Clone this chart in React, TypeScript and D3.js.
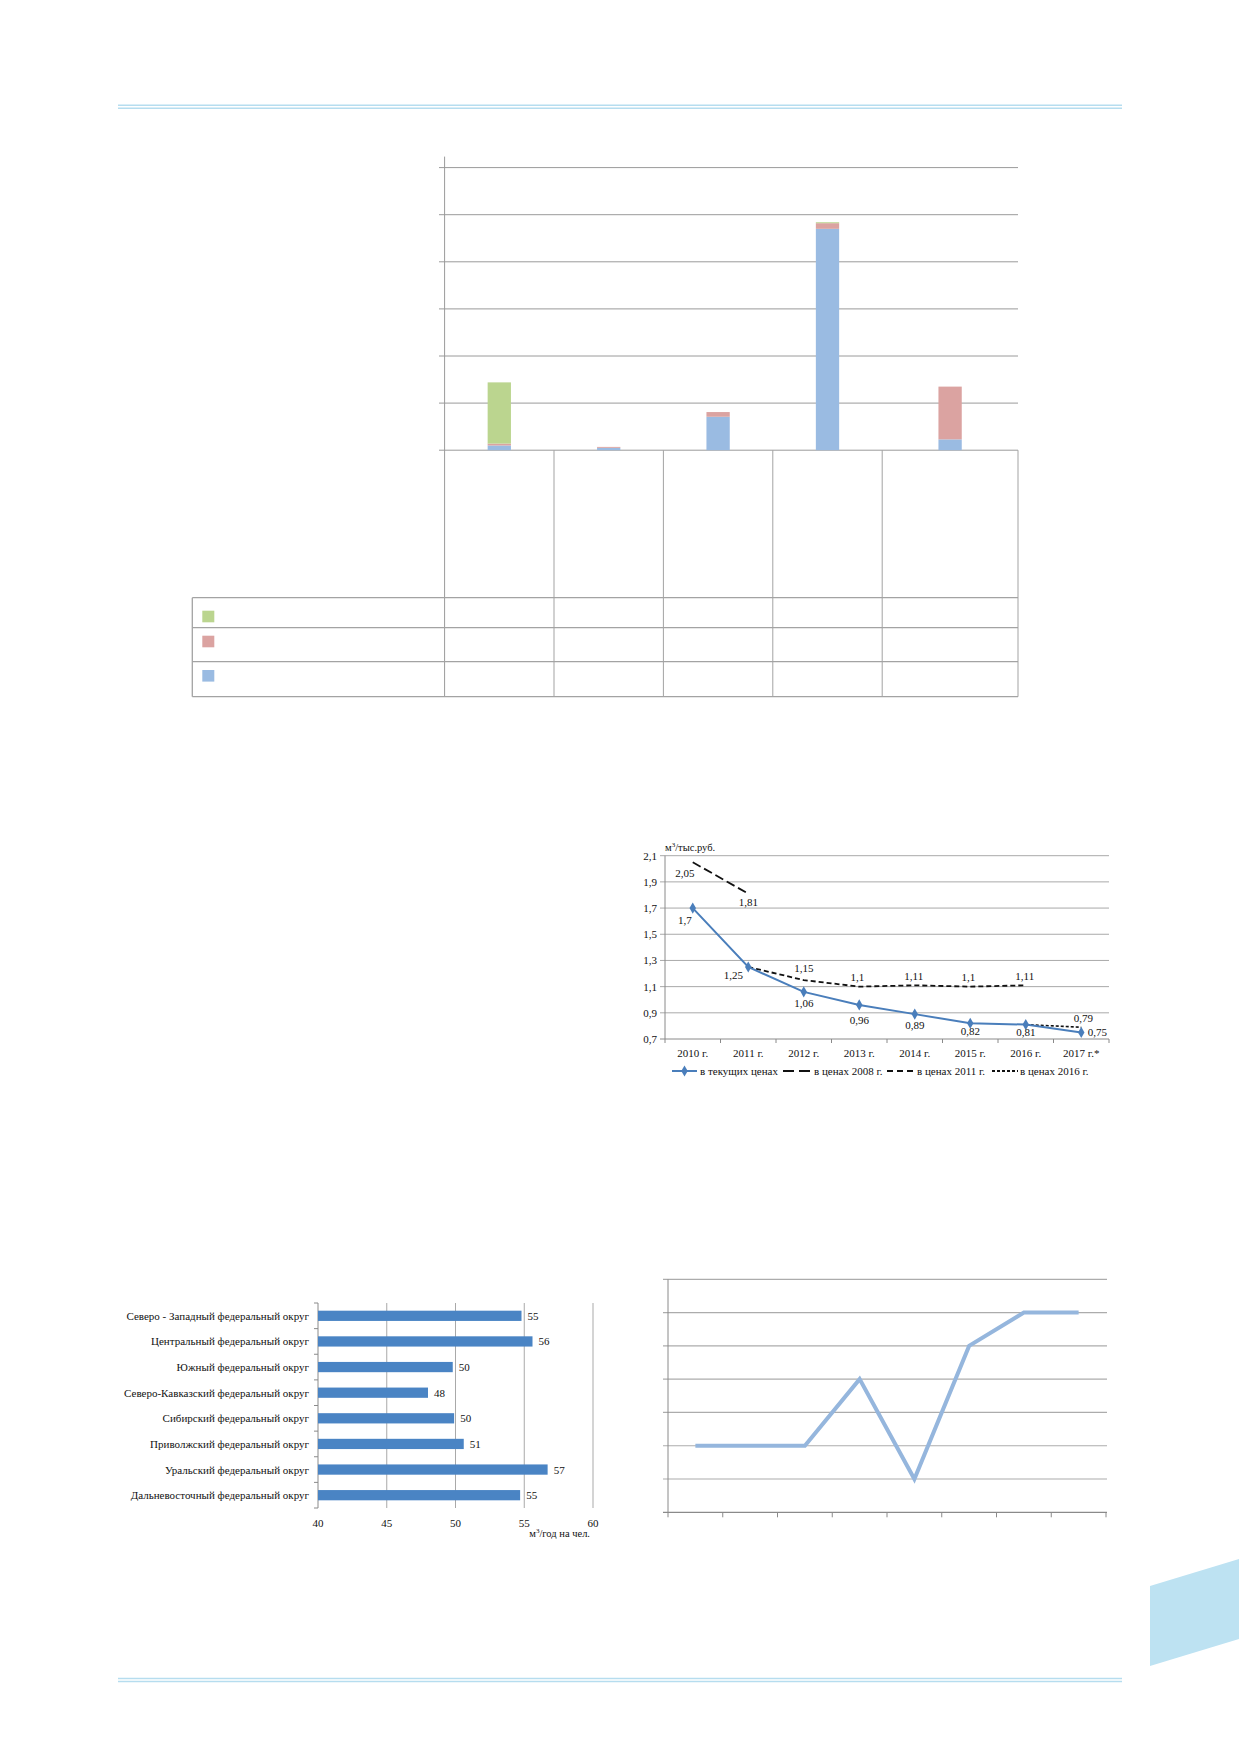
import { useEffect, useRef } from 'react'
import * as d3 from 'd3'

const W = 1239
const H = 1752
const FONT = '"Liberation Serif", "Times New Roman", serif'

// stacked columns (source has no visible labels)
const stackCats = ['c1', 'c2', 'c3', 'c4', 'c5']
const stackBlue = [0.1, 0.05, 0.71, 4.7, 0.23]
const stackRed = [0.04, 0.02, 0.1, 0.12, 1.12]
const stackGreen = [1.3, 0, 0, 0.02, 0]
const stackTicks = [0, 1, 2, 3, 4, 5, 6]

// water intensity line chart
const years = ['2010 г.', '2011 г.', '2012 г.', '2013 г.', '2014 г.', '2015 г.', '2016 г.', '2017 г.*']
const current = [1.7, 1.25, 1.06, 0.96, 0.89, 0.82, 0.81, 0.75]
const prices2008 = [2.05, 1.81, null, null, null, null, null, null]
const prices2011 = [null, 1.25, 1.15, 1.1, 1.11, 1.1, 1.11, null]
const prices2016 = [null, null, null, null, null, null, 0.81, 0.79]
const intensityTicks = [0.7, 0.9, 1.1, 1.3, 1.5, 1.7, 1.9, 2.1]

// per capita by federal district
const districts = [
  'Северо - Западный федеральный округ',
  'Центральный федеральный округ',
  'Южный федеральный округ',
  'Северо-Кавказский федеральный округ',
  'Сибирский федеральный округ',
  'Приволжский федеральный округ',
  'Уральский федеральный округ',
  'Дальневосточный федеральный округ'
]
const perCapita = [54.8, 55.6, 49.8, 48.0, 49.9, 50.6, 56.7, 54.7]
const perCapitaLabels = ['55', '56', '50', '48', '50', '51', '57', '55']
const perCapitaTicks = [40, 45, 50, 55, 60]

// unlabeled line chart
const trendCats = ['t1', 't2', 't3', 't4', 't5', 't6', 't7', 't8']
const trendValues = [2, 2, 2, 4, 1, 5, 6, 6]
const trendTicks = [0, 1, 2, 3, 4, 5, 6, 7]

const fmt = (v: number) => String(v).replace('.', ',')

const App = () => {
  const svgRef = useRef<SVGSVGElement | null>(null)

  useEffect(() => {
    if (!svgRef.current) return
    const svg = d3.select(svgRef.current)
    svg.selectAll('*').remove()

    // page rules and corner tab
    const ruleColor = '#b6ddef'
    ;[105.3, 108.3, 1678.5, 1681.5].forEach(y => {
      svg.append('line')
        .attr('x1', 118).attr('x2', 1122).attr('y1', y).attr('y2', y)
        .attr('stroke', ruleColor).attr('stroke-width', 1.4)
    })
    svg.append('polygon')
      .attr('points', '1150,1586 1239,1559 1239,1639 1150,1666')
      .attr('fill', '#bde2f2')

    // ---------- stacked columns ----------
    const gridRight = 1018
    const xs = d3.scaleBand<string>().domain(stackCats).range([444.6, 991.6])
    const ys = d3.scaleLinear().domain([0, 6]).range([450.2, 167.6])
    const g1 = svg.append('g')

    g1.selectAll('line.grid')
      .data(stackTicks)
      .enter()
      .append('line')
      .attr('x1', 439).attr('x2', gridRight)
      .attr('y1', d => ys(d)).attr('y2', d => ys(d))
      .attr('stroke', '#9a9a9a').attr('stroke-width', 1)

    g1.append('line')
      .attr('x1', 444.6).attr('x2', 444.6)
      .attr('y1', ys(6) - 11).attr('y2', 696.7)
      .attr('stroke', '#9a9a9a')

    const rows = stackCats.map((c, i) => ({ cat: c, blue: stackBlue[i], red: stackRed[i], green: stackGreen[i] }))
    const stacked = d3.stack<any>().keys(['blue', 'red', 'green'])(rows)
    const stackColors: Record<string, string> = { blue: '#9abbe2', red: '#dba3a1', green: '#bbd58f' }
    const cellLeft = (c: string) => xs(c) as number
    const cellRight = (c: string, i: number) => (i === stackCats.length - 1 ? gridRight : cellLeft(c) + xs.step())
    const barW = 23.3

    stacked.forEach(layer => {
      g1.selectAll(`rect.s-${layer.key}`)
        .data(layer)
        .enter()
        .append('rect')
        .attr('x', (d, i) => (cellLeft(stackCats[i]) + cellRight(stackCats[i], i)) / 2 - barW / 2)
        .attr('y', d => ys(d[1]))
        .attr('width', barW)
        .attr('height', d => Math.max(0, ys(d[0]) - ys(d[1])))
        .attr('fill', stackColors[layer.key])
    })

    // data table under the columns
    const tableColor = '#a3a3a3'
    stackCats.forEach((c, i) => {
      const r = cellRight(c, i)
      g1.append('line')
        .attr('x1', r).attr('x2', r).attr('y1', ys(0)).attr('y2', 696.7)
        .attr('stroke', tableColor)
    })
    ;[597.7, 627.7, 661.7, 696.7].forEach(y => {
      g1.append('line')
        .attr('x1', 192.3).attr('x2', gridRight).attr('y1', y).attr('y2', y)
        .attr('stroke', tableColor).attr('stroke-width', 1.3)
    })
    g1.append('line')
      .attr('x1', 192.3).attr('x2', 192.3).attr('y1', 597.7).attr('y2', 696.7)
      .attr('stroke', tableColor).attr('stroke-width', 1.3)
    ;[['green', 610.7], ['red', 635.7], ['blue', 670]].forEach(([k, y]) => {
      g1.append('rect')
        .attr('x', 202.3).attr('y', y as number).attr('width', 12).attr('height', 11.6)
        .attr('fill', stackColors[k as string])
    })

    // ---------- intensity line chart ----------
    const xl = d3.scaleBand<string>().domain(years).range([665, 1109])
    const yl = d3.scaleLinear().domain([0.7, 2.1]).range([1039, 855.7])
    const cx = (i: number) => (xl(years[i]) as number) + xl.bandwidth() / 2
    const g2 = svg.append('g').attr('font-family', FONT).attr('font-size', 11).attr('fill', '#111')

    g2.selectAll('line.grid')
      .data(intensityTicks)
      .enter()
      .append('line')
      .attr('x1', 660).attr('x2', 1109)
      .attr('y1', d => yl(d)).attr('y2', d => yl(d))
      .attr('stroke', d => (d === 0.7 ? '#8a8a8a' : '#a9a9a9')).attr('stroke-width', 1)

    g2.append('line')
      .attr('x1', 665).attr('x2', 665).attr('y1', yl(2.1)).attr('y2', yl(0.7))
      .attr('stroke', '#8a8a8a')

    g2.selectAll('text.ytick')
      .data(intensityTicks)
      .enter()
      .append('text')
      .attr('x', 657).attr('y', d => yl(d) + 4)
      .attr('text-anchor', 'end')
      .text(d => fmt(d))

    d3.range(years.length + 1).forEach(i => {
      const x = 665 + i * xl.step()
      g2.append('line')
        .attr('x1', x).attr('x2', x).attr('y1', yl(0.7)).attr('y2', yl(0.7) + 4)
        .attr('stroke', '#8a8a8a')
    })

    g2.selectAll('text.xtick')
      .data(years)
      .enter()
      .append('text')
      .attr('x', (d, i) => cx(i)).attr('y', 1057)
      .attr('text-anchor', 'middle')
      .text(d => d)

    const unit = g2.append('text').attr('x', 665).attr('y', 851).attr('font-size', 10.5)
    unit.append('tspan').text('м')
    unit.append('tspan').attr('dy', -4).attr('font-size', 7).text('3')
    unit.append('tspan').attr('dy', 4).text('/тыс.руб.')

    const lineGen = d3.line<number | null>()
      .defined(d => d !== null)
      .x((d, i) => cx(i))
      .y(d => yl(d as number))

    const series = [
      { values: prices2008, stroke: '#111', width: 1.8, dash: '9,4' },
      { values: prices2011, stroke: '#111', width: 1.8, dash: '5,3' },
      { values: prices2016, stroke: '#111', width: 1.6, dash: '3,2' },
      { values: current, stroke: '#4a7ebb', width: 2, dash: null }
    ]
    series.forEach(s => {
      g2.append('path')
        .datum(s.values)
        .attr('fill', 'none')
        .attr('stroke', s.stroke)
        .attr('stroke-width', s.width)
        .attr('stroke-dasharray', s.dash)
        .attr('d', lineGen)
    })

    const diamond = d3.symbol().type(d3.symbolDiamond).size(36)
    g2.selectAll('path.marker')
      .data(current)
      .enter()
      .append('path')
      .attr('d', diamond)
      .attr('transform', (d, i) => `translate(${cx(i)},${yl(d)})`)
      .attr('fill', '#4a7ebb')

    // data labels: [dx, dy] offsets from each point, null = no label
    const labelSets: { values: (number | null)[]; offsets: ([number, number] | null)[] }[] = [
      { values: current, offsets: [[-8, 16], [-15, 12], [0, 15], [0, 19], [0, 15], [0, 12], [0, 11], [16, 4]] },
      { values: prices2008, offsets: [[-8, 15], [0, 12], null, null, null, null, null, null] },
      { values: prices2011, offsets: [null, null, [0, -8], [-2, -6], [-1, -5], [-2, -6], [-1, -5], null] },
      { values: prices2016, offsets: [null, null, null, null, null, null, null, [2, -5]] }
    ]
    labelSets.forEach(ls => {
      ls.values.forEach((v, i) => {
        const off = ls.offsets[i]
        if (v === null || !off) return
        g2.append('text')
          .attr('x', cx(i) + off[0]).attr('y', yl(v) + off[1])
          .attr('text-anchor', 'middle')
          .text(fmt(v))
      })
    })

    // legend
    const legY = 1071
    const leg = [
      { x1: 672, x2: 697, tx: 700, stroke: '#4a7ebb', dash: null, label: 'в текущих ценах', marker: true },
      { x1: 783, x2: 812, tx: 814, stroke: '#111', dash: '11,5', label: 'в ценах 2008 г.', marker: false },
      { x1: 887, x2: 913, tx: 917, stroke: '#111', dash: '6,4', label: 'в ценах 2011 г.', marker: false },
      { x1: 992, x2: 1018, tx: 1020, stroke: '#111', dash: '3,2', label: 'в ценах 2016 г.', marker: false }
    ]
    leg.forEach(l => {
      g2.append('line')
        .attr('x1', l.x1).attr('x2', l.x2).attr('y1', legY).attr('y2', legY)
        .attr('stroke', l.stroke).attr('stroke-width', 2).attr('stroke-dasharray', l.dash)
      if (l.marker) {
        g2.append('path').attr('d', diamond)
          .attr('transform', `translate(${(l.x1 + l.x2) / 2},${legY})`).attr('fill', l.stroke)
      }
      g2.append('text').attr('x', l.tx).attr('y', legY + 4).text(l.label)
    })

    // ---------- per capita bars ----------
    const xb = d3.scaleLinear().domain([40, 60]).range([318, 593])
    const yb = d3.scaleBand<string>().domain(districts).range([1303, 1508])
    const g3 = svg.append('g').attr('font-family', FONT).attr('font-size', 11).attr('fill', '#111')

    g3.selectAll('line.grid')
      .data(perCapitaTicks.slice(1))
      .enter()
      .append('line')
      .attr('x1', d => xb(d)).attr('x2', d => xb(d))
      .attr('y1', 1303).attr('y2', 1508)
      .attr('stroke', '#a9a9a9')

    g3.append('line')
      .attr('x1', xb(40)).attr('x2', xb(40)).attr('y1', 1303).attr('y2', 1508)
      .attr('stroke', '#8a8a8a')

    d3.range(districts.length + 1).forEach(i => {
      const y = 1303 + i * yb.step()
      g3.append('line')
        .attr('x1', xb(40) - 4).attr('x2', xb(40)).attr('y1', y).attr('y2', y)
        .attr('stroke', '#8a8a8a')
    })

    const barH = yb.bandwidth() * 0.4
    g3.selectAll('rect.bar')
      .data(perCapita)
      .enter()
      .append('rect')
      .attr('x', xb(40))
      .attr('y', (d, i) => (yb(districts[i]) as number) + (yb.bandwidth() - barH) / 2)
      .attr('width', d => xb(d) - xb(40))
      .attr('height', barH)
      .attr('fill', '#4a84c4')

    g3.selectAll('text.val')
      .data(perCapita)
      .enter()
      .append('text')
      .attr('x', d => xb(d) + 6)
      .attr('y', (d, i) => (yb(districts[i]) as number) + yb.bandwidth() / 2 + 4)
      .text((d, i) => perCapitaLabels[i])

    g3.selectAll('text.cat')
      .data(districts)
      .enter()
      .append('text')
      .attr('x', 309)
      .attr('y', d => (yb(d) as number) + yb.bandwidth() / 2 + 4)
      .attr('text-anchor', 'end')
      .text(d => d)

    g3.selectAll('text.xtick')
      .data(perCapitaTicks)
      .enter()
      .append('text')
      .attr('x', d => xb(d)).attr('y', 1527)
      .attr('text-anchor', 'middle')
      .text(d => d)

    const unit2 = g3.append('text').attr('x', 590).attr('y', 1537).attr('text-anchor', 'end').attr('font-size', 10.5)
    unit2.append('tspan').text('м')
    unit2.append('tspan').attr('dy', -4).attr('font-size', 7).text('3')
    unit2.append('tspan').attr('dy', 4).text('/год на чел.')

    // ---------- unlabeled trend line ----------
    const xt = d3.scaleBand<string>().domain(trendCats).range([668, 1106])
    const yt = d3.scaleLinear().domain([0, 7]).range([1512.3, 1279.3])
    const g4 = svg.append('g')

    g4.selectAll('line.grid')
      .data(trendTicks)
      .enter()
      .append('line')
      .attr('x1', 663).attr('x2', 1107)
      .attr('y1', d => yt(d)).attr('y2', d => yt(d))
      .attr('stroke', d => (d === 0 ? '#8a8a8a' : '#acacac')).attr('stroke-width', 1.2)

    g4.append('line')
      .attr('x1', 668).attr('x2', 668).attr('y1', yt(7)).attr('y2', yt(0))
      .attr('stroke', '#8a8a8a')

    d3.range(trendCats.length + 1).forEach(i => {
      const x = 668 + i * xt.step()
      g4.append('line')
        .attr('x1', x).attr('x2', x).attr('y1', yt(0)).attr('y2', yt(0) + 5)
        .attr('stroke', '#8a8a8a')
    })

    const trendLine = d3.line<number>()
      .x((d, i) => (xt(trendCats[i]) as number) + xt.bandwidth() / 2)
      .y(d => yt(d))

    g4.append('path')
      .datum(trendValues)
      .attr('fill', 'none')
      .attr('stroke', '#95b6dd')
      .attr('stroke-width', 4)
      .attr('stroke-linejoin', 'miter')
      .attr('d', trendLine)
  }, [])

  return (
    <div style={{ position: 'absolute', left: 0, top: 0, width: W, height: H, background: '#fff' }}>
      <svg ref={svgRef} width={W} height={H} />
    </div>
  )
}

export default App
